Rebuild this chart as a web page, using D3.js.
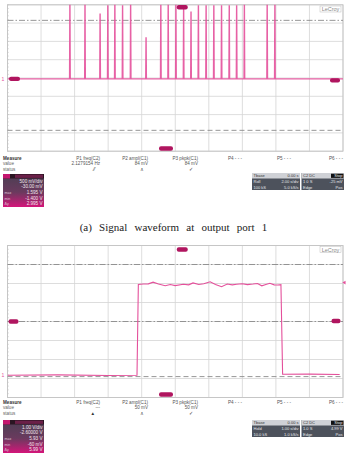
<!DOCTYPE html>
<html>
<head>
<meta charset="utf-8">
<script src="https://cdn.jsdelivr.net/npm/d3@7"></script>
<style>
  body { margin: 0; background: #fff; }
  svg { display: block; font-family: "Liberation Sans", Arial, sans-serif; }
</style>
</head>
<body>
<div id="chart"></div>
<script>
// pulse train at output port 1 (time in div, amplitude in div)
const pulseTimes = [1.86, 2.31, 2.76, 2.99, 3.20, 3.43, 3.67, 4.13, 4.57, 4.79, 5.02, 5.25, 5.47, 5.69, 5.92, 6.15, 6.38, 6.61, 6.83, 7.06, 7.74, 7.97];
const pulsePeaks = [4.1, 4.1, 3.5, 3.95, 4.1, 3.95, 4.1, 2.2, 4.0, 4.1, 4.1, 3.95, 3.6, 3.95, 3.95, 3.95, 3.95, 3.95, 3.95, 4.05, 4.05, 4.05];
const pulseBase = -0.05;

// gate waveform (b)
const stepT = [0, 1.5, 3.0, 3.86, 3.9, 4.05, 4.2, 4.34, 4.5, 4.7, 4.85, 5.0, 5.24, 5.4, 5.53, 5.7, 5.85, 6.04, 6.2, 6.38, 6.55, 6.7, 6.83, 7.0, 7.15, 7.32, 7.45, 7.58, 7.7, 7.82, 7.95, 8.06, 8.15, 8.2, 9.0, 9.9];
const stepV = [-2.83, -2.81, -2.84, -2.83, 1.95, 1.97, 1.98, 2.07, 1.97, 1.88, 1.95, 1.89, 1.96, 1.93, 2.03, 1.95, 1.99, 2.09, 1.95, 1.83, 1.97, 1.93, 1.96, 1.99, 1.94, 1.97, 2.0, 1.88, 1.95, 2.01, 1.93, 1.92, 1.94, -2.78, -2.77, -2.79];

// cursor levels (div)
const cursorsA = [3.15, -2.86];
const cursorsB = [3.0, 0, -2.9];

// measurement strip
const measLabels = ["P1 freq(C2)", "P2 ampl(C1)", "P3 pkpk(C1)", "P4 - - -", "P5 - - -", "P6 - - -"];
const measValuesA = ["2.1279154 Hz", "84 mV", "84 mV", "", "", ""];
const measValuesB = ["---", "50 mV", "50 mV", "", "", ""];
const measStatusA = ["\u2044\u2044", "\u028C", "\u2713", "", "", ""];
const measStatusB = ["\u25B2", "\u028C", "\u2713", "", "", ""];
const rowNames = ["Measure", "value", "status"];

const chanBoxA = ["500 mV/div", "-30.00 mV", "1.595 V", "-1.400 V", "2.995 V"];
const chanBoxB = ["1.00 V/div", "-2.60000 V", "5.93 V", "-60 mV", "5.99 V"];
const chanKeys = ["", "", "max", "min", "\u0394y"];

const tbaseA = [["Tbase", "0.00 s"], ["Roll", "2.00 s/div"], ["100 kS", "5.0 kS/s"]];
const trigA = [["C2 DC", "Stop"], ["1 0 S", "-25 mV"], ["Edge", "Pos"]];
const tbaseB = [["Tbase", "0.00 s"], ["Hold", "1.00 s/div"], ["10.0 kS", "1.0 kS/s"]];
const trigB = [["C2 DC", "Stop"], ["1.0 S", "4.99 V"], ["Edge", "Pos"]];

const caption = "(a) Signal waveform at output port 1";

const W = 347, H = 457;
const trace = "#e4509b";
const marker = "#b0155f";

const svg = d3.select("#chart").append("svg")
  .attr("width", W).attr("height", H);
svg.append("rect").attr("width", W).attr("height", H).attr("fill", "#fff");

const x = d3.scaleLinear().domain([0, 10]).range([7.5, 343]);

function drawScope(top, bottom, id) {
  const y = d3.scaleLinear().domain([-4, 4]).range([bottom, top]);
  const g = svg.append("g");

  g.append("clipPath").attr("id", id)
    .append("rect")
    .attr("x", x(0)).attr("y", top)
    .attr("width", x(10) - x(0)).attr("height", bottom - top);

  // grid
  g.append("g").selectAll("line")
    .data(x.ticks(10))
    .join("line")
    .attr("x1", d => x(d)).attr("x2", d => x(d))
    .attr("y1", top).attr("y2", bottom)
    .attr("stroke", "#d4d4d4").attr("stroke-width", 0.8);
  g.append("g").selectAll("line")
    .data(y.ticks(8))
    .join("line")
    .attr("x1", x(0)).attr("x2", x(10))
    .attr("y1", d => y(d)).attr("y2", d => y(d))
    .attr("stroke", "#d4d4d4").attr("stroke-width", 0.8);

  // small ticks on left edge
  g.append("g").selectAll("line")
    .data(d3.range(-4, 4.01, 0.2))
    .join("line")
    .attr("x1", x(0)).attr("x2", x(0) + 1.2)
    .attr("y1", d => y(d)).attr("y2", d => y(d))
    .attr("stroke", "#aaa").attr("stroke-width", 0.5);

  g.append("rect")
    .attr("x", x(0)).attr("y", top)
    .attr("width", x(10) - x(0)).attr("height", bottom - top)
    .attr("fill", "none").attr("stroke", "#c4c4c4").attr("stroke-width", 0.9);

  // LeCroy tag
  g.append("rect")
    .attr("x", 320).attr("y", top + 1.2).attr("width", 21).attr("height", 6)
    .attr("fill", "#fff").attr("stroke", "#bbb").attr("stroke-width", 0.5);
  g.append("text")
    .attr("x", 330.5).attr("y", top + 6.2)
    .attr("text-anchor", "middle")
    .attr("font-size", 5.5).attr("fill", "#888")
    .text("LeCroy");

  return {g, y};
}

function cursorLine(s, v, dash) {
  s.g.append("line")
    .attr("x1", x(0)).attr("x2", x(10))
    .attr("y1", s.y(v)).attr("y2", s.y(v))
    .attr("stroke", "#8a8a8a").attr("stroke-width", 0.9)
    .attr("stroke-dasharray", dash);
}

function tag(g, cx, cy, w) {
  g.append("rect")
    .attr("x", cx - w / 2).attr("y", cy - 2.2)
    .attr("width", w).attr("height", 4.4).attr("rx", 2)
    .attr("fill", marker);
}

// ---- scope (a)
const A = drawScope(4.8, 151.2, "clipA");
cursorLine(A, cursorsA[0], "6,2,1.5,2");
cursorLine(A, cursorsA[1], "5,3");

const pulsePts = [[0, pulseBase]];
pulseTimes.forEach((t, i) => {
  pulsePts.push([t - 0.014, pulseBase], [t - 0.005, pulsePeaks[i]], [t + 0.005, pulsePeaks[i]], [t + 0.014, pulseBase]);
});
pulsePts.push([10, pulseBase]);

A.g.append("path")
  .datum(pulsePts)
  .attr("clip-path", "url(#clipA)")
  .attr("fill", "none")
  .attr("stroke", trace).attr("stroke-width", 1.1)
  .attr("stroke-opacity", 0.9)
  .attr("d", d3.line().x(d => x(d[0])).y(d => A.y(d[1])));

tag(A.g, 14.5, A.y(pulseBase), 11);
tag(A.g, x(5) + 7, 7.2, 11);
tag(A.g, 335, A.y(pulseBase) + 1.5, 10);
tag(A.g, 166, 148.5, 14);
A.g.append("text").attr("x", 1.5).attr("y", A.y(pulseBase) + 1.8)
  .attr("font-size", 5).attr("fill", trace).text("1");

// ---- scope (b)
const B = drawScope(245.5, 397.5, "clipB");
cursorLine(B, cursorsB[0], "6,2,1.5,2");
cursorLine(B, cursorsB[1], "6,2,1.5,2");
cursorLine(B, cursorsB[2], "5,3");

B.g.append("path")
  .datum(d3.zip(stepT, stepV))
  .attr("clip-path", "url(#clipB)")
  .attr("fill", "none")
  .attr("stroke", trace).attr("stroke-width", 1.1)
  .attr("d", d3.line().x(d => x(d[0])).y(d => B.y(d[1])));

tag(B.g, 13.5, B.y(0), 10);
tag(B.g, x(5) + 7, 249.5, 11);
tag(B.g, 336, B.y(0) - 0.5, 9);
tag(B.g, 166, 394.5, 14);
B.g.append("text").attr("x", 1.5).attr("y", B.y(stepV[0]) + 1.8)
  .attr("font-size", 5).attr("fill", trace).text("1");
B.g.append("path")
  .attr("d", d3.symbol(d3.symbolTriangle, 6)())
  .attr("transform", `translate(344.5,${B.y(2.05)}) rotate(-90)`)
  .attr("fill", trace);

// ---- measurement strips
const colRight = [100, 148, 198, 242, 291, 343];

function measure(y0, values, status) {
  const g = svg.append("g").attr("font-size", 4.6).attr("fill", "#555");
  rowNames.forEach((r, i) => {
    g.append("text").attr("x", 3).attr("y", y0 + i * 5.4)
      .attr("font-weight", i === 0 ? "bold" : "normal")
      .attr("fill", i === 0 ? "#333" : "#666")
      .text(r);
  });
  g.selectAll("text.lab").data(measLabels).join("text")
    .attr("class", "lab")
    .attr("x", (d, i) => colRight[i]).attr("y", y0)
    .attr("text-anchor", "end").text(d => d);
  g.selectAll("text.val").data(values).join("text")
    .attr("class", "val")
    .attr("x", (d, i) => colRight[i]).attr("y", y0 + 5.4)
    .attr("text-anchor", "end").text(d => d);
  g.selectAll("text.st").data(status).join("text")
    .attr("class", "st")
    .attr("x", (d, i) => colRight[i] - 5).attr("y", y0 + 10.8)
    .attr("text-anchor", "end").attr("fill", "#333").text(d => d);
}

function chanBox(y0, h, rows) {
  const id = "grad" + Math.round(y0);
  const grad = svg.append("defs").append("linearGradient")
    .attr("id", id).attr("x1", 0).attr("y1", 0).attr("x2", 0).attr("y2", 1);
  grad.append("stop").attr("offset", "0%").attr("stop-color", "#4a3f52");
  grad.append("stop").attr("offset", "55%").attr("stop-color", "#6a3a5e");
  grad.append("stop").attr("offset", "100%").attr("stop-color", "#d4157a");
  const g = svg.append("g");
  g.append("rect").attr("x", 3).attr("y", y0).attr("width", 41).attr("height", h)
    .attr("fill", `url(#${id})`);
  g.append("rect").attr("x", 3).attr("y", y0).attr("width", 41).attr("height", 4.5)
    .attr("fill", "#2a1522");
  g.append("rect").attr("x", 3).attr("y", y0).attr("width", 7).attr("height", 4.5)
    .attr("fill", "#c4166e");
  g.append("rect").attr("x", 15).attr("y", y0 + 0.6).attr("width", 28).attr("height", 3.3)
    .attr("fill", "#6a2048");
  const step = (h - 5) / rows.length;
  rows.forEach((r, i) => {
    g.append("text").attr("x", 42.5).attr("y", y0 + 4.5 + step * (i + 0.75))
      .attr("text-anchor", "end").attr("font-size", 4.6).attr("fill", "#f2e6ee").text(r);
    if (chanKeys[i]) {
      g.append("text").attr("x", 4.5).attr("y", y0 + 4.5 + step * (i + 0.75))
        .attr("font-size", 3.6).attr("fill", "#d9c4d2").text(chanKeys[i]);
    }
  });
}

function tbBox(y0, tb, tr) {
  const g = svg.append("g").attr("font-size", 4);
  const drawCol = (x0, w, rows, isTrig) => {
    g.append("rect").attr("x", x0).attr("y", y0).attr("width", w).attr("height", 17)
      .attr("fill", "#4d525c");
    g.append("rect").attr("x", x0).attr("y", y0).attr("width", w).attr("height", 5.5)
      .attr("fill", "#cfd1d6");
    rows.forEach((r, i) => {
      const yy = y0 + 4.3 + i * 5.6;
      g.append("text").attr("x", x0 + 1.5).attr("y", yy)
        .attr("fill", i === 0 ? "#333" : "#e4e6ea").text(r[0]);
      if (isTrig && i === 0) {
        g.append("rect").attr("x", x0 + w - 13).attr("y", y0 + 0.7).attr("width", 12.5).attr("height", 4.2)
          .attr("fill", "#111");
        g.append("text").attr("x", x0 + w - 1.5).attr("y", yy)
          .attr("text-anchor", "end").attr("fill", "#eee").text(r[1]);
      } else {
        g.append("text").attr("x", x0 + w - 1.5).attr("y", yy)
          .attr("text-anchor", "end").attr("fill", i === 0 ? "#333" : "#e4e6ea").text(r[1]);
      }
    });
  };
  drawCol(252, 48, tb, false);
  drawCol(301.5, 42.5, tr, true);
}

measure(160, measValuesA, measStatusA);
chanBox(174, 33, chanBoxA);
tbBox(173, tbaseA, trigA);

measure(404, measValuesB, measStatusB);
chanBox(420, 33, chanBoxB);
tbBox(420, tbaseB, trigB);

// caption
svg.append("text")
  .attr("x", W / 2).attr("y", 230.5)
  .attr("text-anchor", "middle")
  .attr("font-family", "'Liberation Serif', 'Times New Roman', serif")
  .attr("font-size", 11).attr("fill", "#222")
  .attr("word-spacing", 4.5)
  .text(caption);
</script>
</body>
</html>
